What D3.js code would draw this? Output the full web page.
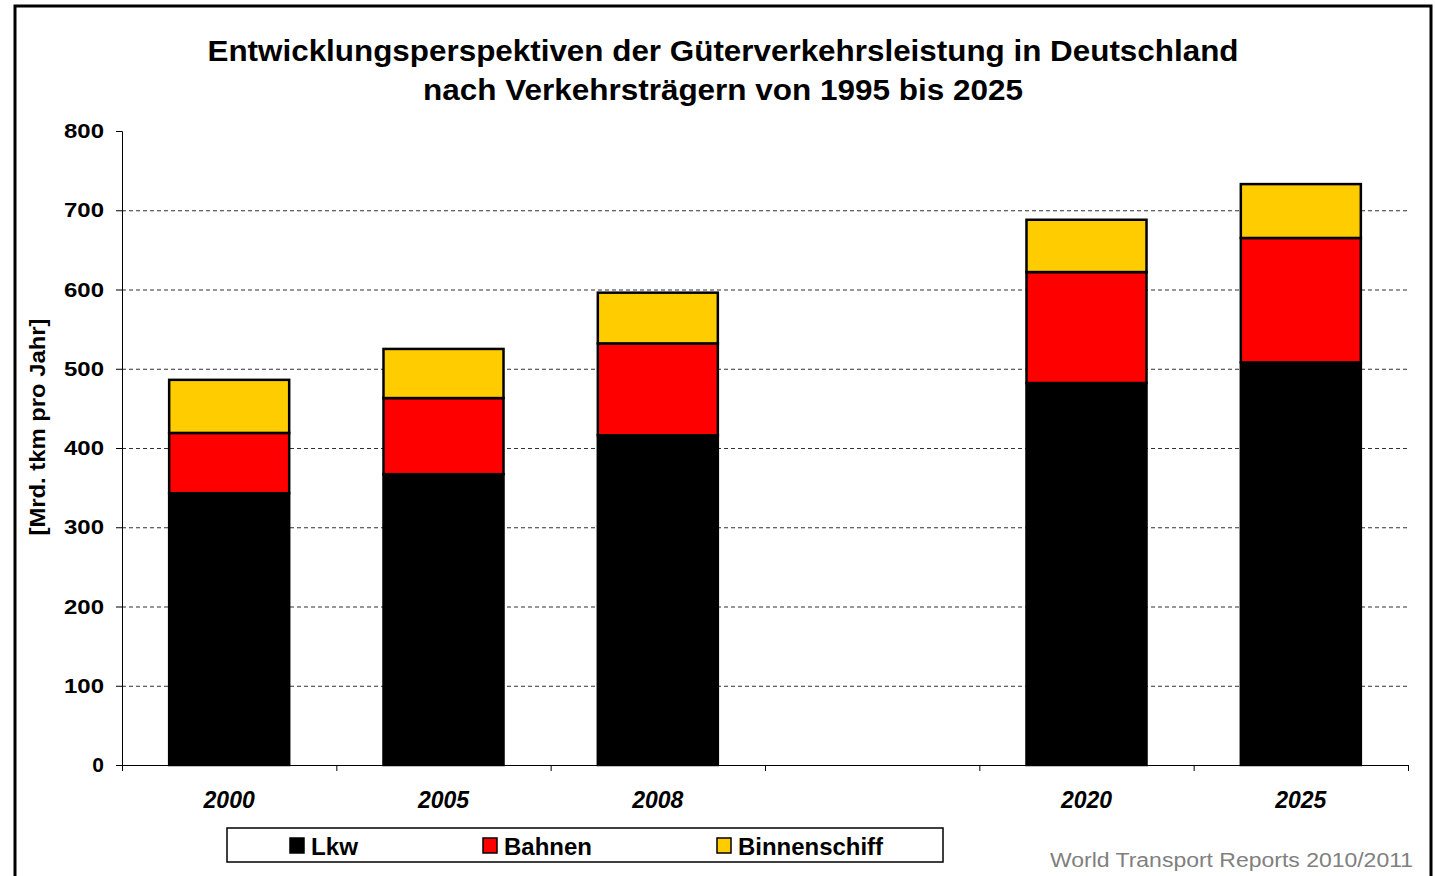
<!DOCTYPE html>
<html>
<head>
<meta charset="utf-8">
<script src="https://cdn.jsdelivr.net/npm/d3@7"></script>
<style>
  body { margin: 0; background: #fff; }
  svg { font-family: 'Liberation Sans', Arial, sans-serif; }
</style>
</head>
<body>
<svg width="1435" height="876"></svg>
<script>
const years = ['2000', '2005', '2008', '', '2020', '2025']
const lkw = [343, 367, 416, null, 482, 508]
const bahnen = [76, 96, 116, null, 140, 157]
const binnenschiff = [67, 62, 64, null, 66, 68]
const seriesNames = ['Lkw', 'Bahnen', 'Binnenschiff']
const colors = ['#000000', '#ff0000', '#ffcc00']
const yTicks = [0, 100, 200, 300, 400, 500, 600, 700, 800]

const svg = d3.select('svg')
const LEFT = 122, RIGHT = 1408, TOP = 131, BOTTOM = 765

// frame
svg.append('rect')
  .attr('x', 15).attr('y', 6).attr('width', 1416).attr('height', 880)
  .attr('fill', '#fff').attr('stroke', '#000').attr('stroke-width', 3)

// title, stretched a bit like the original
svg.append('text')
  .attr('x', 723).attr('y', 61)
  .attr('text-anchor', 'middle').attr('font-size', 29).attr('font-weight', 'bold')
  .attr('textLength', 1031).attr('lengthAdjust', 'spacingAndGlyphs')
  .text('Entwicklungsperspektiven der Güterverkehrsleistung in Deutschland')
svg.append('text')
  .attr('x', 723).attr('y', 100)
  .attr('text-anchor', 'middle').attr('font-size', 29).attr('font-weight', 'bold')
  .attr('textLength', 600).attr('lengthAdjust', 'spacingAndGlyphs')
  .text('nach Verkehrsträgern von 1995 bis 2025')

const x = d3.scaleBand().domain(d3.range(years.length)).range([LEFT, RIGHT]).paddingInner(0.44).paddingOuter(0.22)
const xTickScale = d3.scaleLinear().domain([0, years.length]).range([LEFT, RIGHT])
const y = d3.scaleLinear().domain([0, 800]).range([BOTTOM, TOP])

// grid
svg.append('g')
  .selectAll('line')
  .data(yTicks.filter(d => d > 0 && d < 800))
  .join('line')
  .attr('x1', LEFT).attr('x2', RIGHT)
  .attr('y1', d => y(d) + 0.5).attr('y2', d => y(d) + 0.5)
  .attr('stroke', '#333').attr('stroke-width', 1.2).attr('stroke-dasharray', '4,3')

// stacked bars
const rows = years.map((yr, i) => ({ i, Lkw: lkw[i], Bahnen: bahnen[i], Binnenschiff: binnenschiff[i] }))
  .filter(d => d.Lkw != null)
const stack = d3.stack().keys(seriesNames)(rows)

svg.append('g')
  .selectAll('g')
  .data(stack)
  .join('g')
  .attr('fill', (d, k) => colors[k])
  .selectAll('rect')
  .data(d => d)
  .join('rect')
  .attr('x', d => x(d.data.i))
  .attr('width', x.bandwidth())
  .attr('y', d => y(d[1]))
  .attr('height', d => y(d[0]) - y(d[1]))
  .attr('stroke', '#000').attr('stroke-width', 2.5)

// y axis
const yAxis = svg.append('g')
  .attr('transform', `translate(${LEFT},0)`)
  .call(d3.axisLeft(y).tickValues(yTicks).tickSize(6).tickPadding(12))
yAxis.select('.domain').attr('stroke', '#000')
yAxis.selectAll('text')
  .attr('font-size', 21).attr('font-weight', 'bold').attr('font-family', 'Liberation Sans, Arial').attr('fill', '#000')
  .attr('textLength', 40).attr('lengthAdjust', 'spacingAndGlyphs')
yAxis.selectAll('.tick').filter(d => d === 0).select('text').attr('textLength', null)

// x axis
const xAxis = svg.append('g')
  .attr('transform', `translate(0,${BOTTOM})`)
  .call(d3.axisBottom(xTickScale).tickValues(d3.range(years.length + 1)).tickSize(6).tickFormat(''))
xAxis.select('.domain').attr('stroke', '#000')

svg.append('g')
  .selectAll('text')
  .data(years)
  .join('text')
  .attr('x', (d, i) => x(i) + x.bandwidth() / 2)
  .attr('y', 808)
  .attr('text-anchor', 'middle')
  .attr('font-size', 23).attr('font-weight', 'bold').attr('font-style', 'italic')
  .text(d => d)

svg.append('text')
  .attr('transform', 'translate(45,427) rotate(-90)')
  .attr('text-anchor', 'middle').attr('font-size', 22).attr('font-weight', 'bold')
  .attr('textLength', 217).attr('lengthAdjust', 'spacingAndGlyphs')
  .text('[Mrd. tkm pro Jahr]')

// legend
svg.append('rect')
  .attr('x', 227).attr('y', 828).attr('width', 716).attr('height', 34)
  .attr('fill', '#fff').attr('stroke', '#000').attr('stroke-width', 1.5)
const legendX = [290, 483, 717]
const legendW = [47, 88, 145]
const legend = svg.append('g').selectAll('g')
  .data(seriesNames)
  .join('g')
  .attr('transform', (d, i) => `translate(${legendX[i]},838)`)
legend.append('rect')
  .attr('width', 14).attr('height', 15)
  .attr('fill', (d, i) => colors[i]).attr('stroke', '#000').attr('stroke-width', 1.5)
legend.append('text')
  .attr('x', 21).attr('y', 17)
  .attr('font-size', 23).attr('font-weight', 'bold')
  .attr('textLength', (d, i) => legendW[i]).attr('lengthAdjust', 'spacingAndGlyphs')
  .text(d => d)

svg.append('text')
  .attr('x', 1413).attr('y', 867)
  .attr('text-anchor', 'end').attr('font-size', 20).attr('fill', '#808080')
  .attr('textLength', 363).attr('lengthAdjust', 'spacingAndGlyphs')
  .text('World Transport Reports 2010/2011')
</script>
</body>
</html>
